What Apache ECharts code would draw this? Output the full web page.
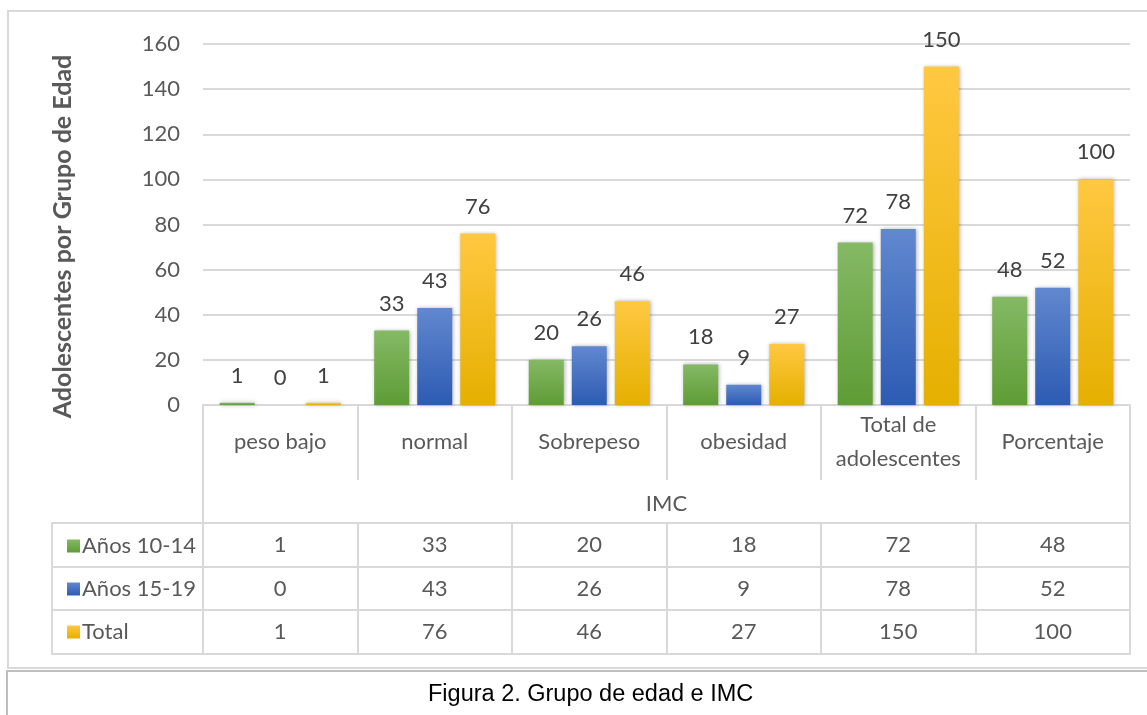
<!DOCTYPE html>
<html>
<head>
<meta charset="utf-8">
<script src="https://cdn.jsdelivr.net/npm/echarts@6/dist/echarts.min.js"></script>
<style>html,body{margin:0;padding:0;background:#fff;}#c{width:1147px;height:715px;}</style>
</head>
<body>
<div id="c"></div>
<script>
const categories = ['peso bajo', 'normal', 'Sobrepeso', 'obesidad', 'Total de\nadolescentes', 'Porcentaje'];
const seriesNames = ['Años 10-14', 'Años 15-19', 'Total'];
const anos1014 = [1, 33, 20, 18, 72, 48];
const anos1519 = [0, 43, 26, 9, 78, 52];
const totalVals = [1, 76, 46, 27, 150, 100];
const yMin = 0, yMax = 160, yStep = 20;
const yTitle = 'Adolescentes por Grupo de Edad';
const xTitle = 'IMC';
const caption = 'Figura 2. Grupo de edad e IMC';

const rows = [anos1014, anos1519, totalVals];
const FONT = 'Lato, "Open Sans", sans-serif';
const TXT = '#595959';
const LINE = '#d9d9d9';
const LW = 2;
const grads = [
  ['#85b965', '#5e9c35'],
  ['#6188cf', '#2d5bb3'],
  ['#ffc841', '#e5b000']
];
function grad(c) {
  return new echarts.graphic.LinearGradient(0, 0, 0, 1, [{offset: 0, color: c[0]}, {offset: 1, color: c[1]}]);
}

const chart = echarts.init(document.getElementById('c'), null, {renderer: 'canvas'});

const rowOffsets = [118, 162, 205];
const rowHeights = [44, 43, 44];
const tableBottom = 249;
const lineStyle = {color: LINE, width: LW};

const xAxes = [];
// header row with category names
xAxes.push({
  type: 'category', gridIndex: 0, data: categories, position: 'bottom',
  axisLine: {show: true, onZero: false, lineStyle: lineStyle},
  axisTick: {show: true, length: 75, lineStyle: lineStyle},
  axisLabel: {interval: 0, fontFamily: FONT, fontSize: 22, color: TXT, margin: 37, verticalAlign: 'middle', lineHeight: 34},
  name: xTitle, nameLocation: 'middle', nameGap: 88,
  nameTextStyle: {fontFamily: FONT, fontSize: 22, color: TXT}
});
// IMC row borders (left & right)
xAxes.push({
  type: 'value', gridIndex: 0, min: 0, max: categories.length, interval: categories.length, offset: 75, position: 'bottom',
  axisLine: {show: false, onZero: false}, axisTick: {show: true, length: 43, lineStyle: lineStyle},
  axisLabel: {show: false}, splitLine: {show: false}
});
// data rows
rows.forEach((r, i) => {
  xAxes.push({
    type: 'category', gridIndex: 0, data: categories, position: 'bottom', offset: rowOffsets[i],
    axisLine: {show: true, onZero: false, lineStyle: lineStyle},
    axisTick: {show: true, length: rowHeights[i], lineStyle: lineStyle},
    axisLabel: {interval: 0, fontFamily: FONT, fontSize: 22, color: TXT, margin: 22, verticalAlign: 'middle',
      formatter: (v, idx) => String(r[idx])}
  });
});
xAxes.push({
  type: 'category', gridIndex: 0, data: categories, position: 'bottom', offset: tableBottom,
  axisLine: {show: true, onZero: false, lineStyle: lineStyle}, axisTick: {show: false}, axisLabel: {show: false}
});
// legend column
rows.forEach((r, i) => {
  xAxes.push({
    type: 'category', gridIndex: 1, data: [''], position: 'bottom', offset: rowOffsets[i],
    axisLine: {show: true, onZero: false, lineStyle: lineStyle},
    axisTick: {show: true, length: rowHeights[i], lineStyle: lineStyle},
    axisLabel: {show: false}
  });
});
xAxes.push({
  type: 'category', gridIndex: 1, data: [''], position: 'bottom', offset: tableBottom,
  axisLine: {show: true, onZero: false, lineStyle: lineStyle}, axisTick: {show: false}, axisLabel: {show: false}
});

const series = rows.map((r, i) => ({
  name: seriesNames[i], type: 'bar', xAxisIndex: 0, yAxisIndex: 0, data: r,
  barWidth: 35, barGap: '23%',
  itemStyle: {color: grad(grads[i]), shadowBlur: 4, shadowColor: 'rgba(0,0,0,0.3)', shadowOffsetX: 1, shadowOffsetY: 0},
  label: {show: true, position: 'top', distance: 16, fontFamily: FONT, fontSize: 22, color: '#404040'}
}));

chart.setOption({
  backgroundColor: '#ffffff',
  animation: false,
  title: {text: caption, left: 423, top: 678,
    textStyle: {fontFamily: '"Liberation Sans", Arial, sans-serif', fontSize: 23.5, fontWeight: 'normal', color: '#000'}},
  legend: {
    data: seriesNames, orient: 'vertical', left: 62, top: 530, itemWidth: 13, itemHeight: 13, itemGap: 21,
    icon: 'rect', selectedMode: false,
    textStyle: {fontFamily: FONT, fontSize: 22, color: TXT, padding: [0, 0, 0, -3]}
  },
  grid: [
    {left: 203, right: 17, top: 44, bottom: 310},
    {left: 52, width: 151, top: 44, bottom: 310}
  ],
  xAxis: xAxes,
  yAxis: [
    {type: 'value', gridIndex: 0, min: yMin, max: yMax, interval: yStep,
      axisLine: {show: false}, axisTick: {show: false},
      splitLine: {lineStyle: lineStyle},
      axisLabel: {fontFamily: FONT, fontSize: 22, color: TXT, margin: 23},
      name: yTitle, nameLocation: 'middle', nameGap: 128, nameRotate: 90,
      nameTextStyle: {fontFamily: FONT, fontSize: 25, fontWeight: 'bold', color: TXT, padding: [0, 24, 0, 0]}},
    {type: 'value', gridIndex: 1, show: false, min: yMin, max: yMax}
  ],
  graphic: [
    {type: 'rect', shape: {x: 8, y: 11, width: 1160, height: 657}, style: {fill: 'none', stroke: LINE, lineWidth: 2}, silent: true, z: -1},
    {type: 'rect', shape: {x: 7, y: 671, width: 1160, height: 60}, style: {fill: 'none', stroke: '#bfbfbf', lineWidth: 2}, silent: true, z: -1}
  ],
  series: series
});
</script>
</body>
</html>
